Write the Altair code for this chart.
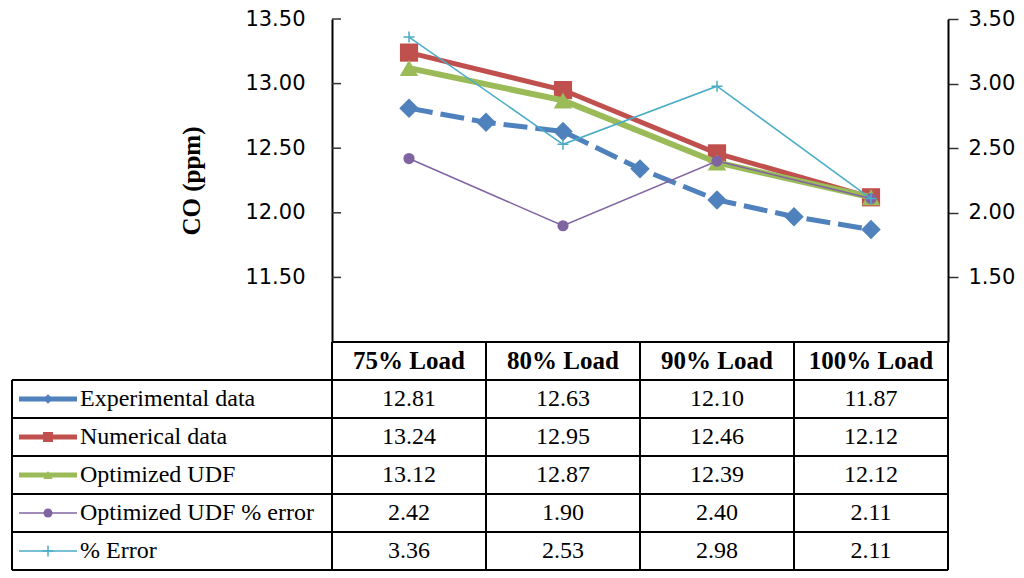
import altair as alt
import pandas as pd

# ---------------- data ----------------
categories = ["75% Load", "80% Load", "90% Load", "100% Load"]
experimental = [12.81, 12.63, 12.10, 11.87]
# plotted experimental curve (diamonds at every half step)
experimental_curve = [12.81, 12.70, 12.63, 12.34, 12.10, 11.97, 11.87]
numerical = [13.24, 12.95, 12.46, 12.12]
optimized_udf = [13.12, 12.87, 12.39, 12.12]
optimized_udf_error = [2.42, 1.90, 2.40, 2.11]
percent_error = [3.36, 2.53, 2.98, 2.11]

series_names = ["Experimental data", "Numerical data", "Optimized UDF",
                "Optimized UDF % error", "% Error"]
left_ticks = [11.5, 12.0, 12.5, 13.0, 13.5]
right_ticks = [1.5, 2.0, 2.5, 3.0, 3.5]

# ---------------- geometry / style ----------------
COL_W = 154          # px per category column
LABEL_W = 320        # px of the legend column of the table
W = LABEL_W + 4 * COL_W
PLOT_H = 323
ROW_H = 38
H = PLOT_H + 6 * ROW_H
XMIN = -0.5 - LABEL_W / COL_W
XMAX = 3.5


def px(d):
    return d / COL_W


SERIF = "Liberation Serif"
SANS = "DejaVu Sans"
BLUE, RED, GREEN, PURPLE, CYAN = "#4F81BD", "#C0504D", "#9BBB59", "#8064A2", "#4BACC6"
PLUS = "M-1,0H1M0,-1V1"

x_scale = alt.Scale(domain=[XMIN, XMAX], nice=False, zero=False)


def X(f="x"):
    return alt.X(f"{f}:Q", scale=x_scale, axis=None)


left_scale = alt.Scale(domain=[11.0, 13.5], range=[PLOT_H, 0], nice=False, zero=False)
right_scale = alt.Scale(domain=[1.0, 3.5], range=[PLOT_H, 0], nice=False, zero=False)
table_scale = alt.Scale(domain=[0, 6], range=[PLOT_H, H], nice=False, zero=False)

left_axis = alt.Axis(orient="left", offset=-LABEL_W, values=left_ticks, format=".2f",
                     labelFont=SANS, labelFontSize=21, labelColor="#000",
                     ticks=False, labelPadding=27, domainColor="#000", domainWidth=2,
                     grid=False, title="CO (ppm)", titleFont=SERIF, titleFontSize=25,
                     titleFontWeight="bold", titleColor="#000", titlePadding=40)
right_axis = alt.Axis(orient="right", values=right_ticks, format=".2f",
                      labelFont=SANS, labelFontSize=21, labelColor="#000",
                      tickSize=10, tickColor="#333", tickWidth=1.5, labelPadding=10,
                      domainColor="#000", domainWidth=2, grid=False, title=None)

specs = [
    dict(name=series_names[0], x=[i / 2 for i in range(7)], y=experimental_curve, color=BLUE,
         shape="diamond", size=380, width=5, dash=[24, 8], filled=True, side="left", lsize=90, lwidth=5),
    dict(name=series_names[1], x=list(range(4)), y=numerical, color=RED,
         shape="square", size=330, width=5, dash=None, filled=True, side="left", lsize=100, lwidth=5),
    dict(name=series_names[2], x=list(range(4)), y=optimized_udf, color=GREEN,
         shape="triangle-up", size=340, width=6, dash=None, filled=True, side="left", lsize=90, lwidth=5),
    dict(name=series_names[3], x=list(range(4)), y=optimized_udf_error, color=PURPLE,
         shape="circle", size=125, width=1.5, dash=None, filled=True, side="right", lsize=80, lwidth=1.5),
    dict(name=series_names[4], x=list(range(4)), y=percent_error, color=CYAN,
         shape=PLUS, size=120, width=1.5, dash=None, filled=False, side="right", lsize=120, lwidth=1.5),
]


def series_layers(s, yenc):
    df = pd.DataFrame({"x": s["x"], "y": s["y"]})
    line_kw = dict(color=s["color"], strokeWidth=s["width"])
    if s["dash"]:
        line_kw["strokeDash"] = s["dash"]
    line = alt.Chart(df).mark_line(**line_kw).encode(x=X(), y=yenc)
    pt_kw = dict(shape=s["shape"], size=s["size"], filled=s["filled"], color=s["color"], opacity=1)
    if not s["filled"]:
        pt_kw["strokeWidth"] = 1.5
    pts = alt.Chart(df).mark_point(**pt_kw).encode(x=X(), y=yenc)
    return [line, pts]


left_layers = []
right_layers = []
for s in specs:
    if s["side"] == "left":
        left_layers += series_layers(s, alt.Y("y:Q", scale=left_scale, axis=left_axis))
    else:
        right_layers += series_layers(s, alt.Y("y:Q", scale=right_scale, axis=right_axis))

# inward ticks of the primary axis
tick_df = pd.DataFrame({"x": [-0.5] * len(left_ticks), "x2": [-0.5 + px(9)] * len(left_ticks), "y": left_ticks})
left_layers.append(
    alt.Chart(tick_df).mark_rule(color="#333", strokeWidth=1.5).encode(
        x=X(), x2="x2:Q", y=alt.Y("y:Q", scale=left_scale, axis=left_axis))
)

left_group = alt.layer(*left_layers)
right_group = alt.layer(*right_layers)

# ---------------- data table ----------------
TY = lambda f: alt.Y(f"{f}:Q", scale=table_scale, axis=None)

h_df = pd.DataFrame({"y": [0] + list(range(1, 7)),
                     "x": [-0.5] + [XMIN] * 6,
                     "x2": [XMAX] * 7})
v_df = pd.DataFrame({"x": [XMIN, -0.5, 0.5, 1.5, 2.5, 3.5],
                     "y": [1, 0, 0, 0, 0, 0],
                     "y2": [6] * 6})
hlines = alt.Chart(h_df).mark_rule(color="#000", strokeWidth=2).encode(x=X(), x2="x2:Q", y=TY("y"))
vlines = alt.Chart(v_df).mark_rule(color="#000", strokeWidth=2).encode(x=X(), y=TY("y"), y2="y2:Q")

header_df = pd.DataFrame({"x": list(range(4)), "y": [0.5] * 4, "t": categories})
header = alt.Chart(header_df).mark_text(font=SERIF, fontSize=25, fontWeight="bold", color="#000",
                                        align="center", baseline="middle").encode(
    x=X(), y=TY("y"), text="t:N")

table_rows = [experimental, numerical, optimized_udf, optimized_udf_error, percent_error]
cell_rows = []
for r, vals in enumerate(table_rows):
    for c, v in enumerate(vals):
        cell_rows.append({"x": c, "y": r + 1.5, "t": f"{v:.2f}"})
cells = alt.Chart(pd.DataFrame(cell_rows)).mark_text(font=SERIF, fontSize=24, color="#000",
                                                     align="center", baseline="middle").encode(
    x=X(), y=TY("y"), text="t:N")

label_df = pd.DataFrame({"x": [XMIN + px(68)] * 5, "y": [r + 1.5 for r in range(5)], "t": series_names})
labels = alt.Chart(label_df).mark_text(font=SERIF, fontSize=24, color="#000",
                                       align="left", baseline="middle").encode(
    x=X(), y=TY("y"), text="t:N")

glyphs = []
for r, s in enumerate(specs):
    gdf = pd.DataFrame({"x": [XMIN + px(7)], "x2": [XMIN + px(65)], "xm": [XMIN + px(36)], "y": [r + 1.5]})
    glyphs.append(alt.Chart(gdf).mark_rule(color=s["color"], strokeWidth=s["lwidth"]).encode(
        x=X(), x2="x2:Q", y=TY("y")))
    kw = dict(shape=s["shape"], size=s["lsize"], filled=s["filled"], color=s["color"], opacity=1)
    if not s["filled"]:
        kw["strokeWidth"] = 1.5
    glyphs.append(alt.Chart(gdf).mark_point(**kw).encode(x=X("xm"), y=TY("y")))

table_group = alt.layer(hlines, vlines, header, cells, labels, *glyphs)

chart = alt.layer(left_group, right_group, table_group).resolve_scale(
    y="independent"
).properties(
    width=W, height=H,
    padding={"left": 4, "top": 11, "right": 68, "bottom": 1},
    autosize=alt.AutoSizeParams(type="none"),
    background="white",
).configure_view(stroke=None)

chart.save("out.html", embed_options={"renderer": "svg", "actions": False})
